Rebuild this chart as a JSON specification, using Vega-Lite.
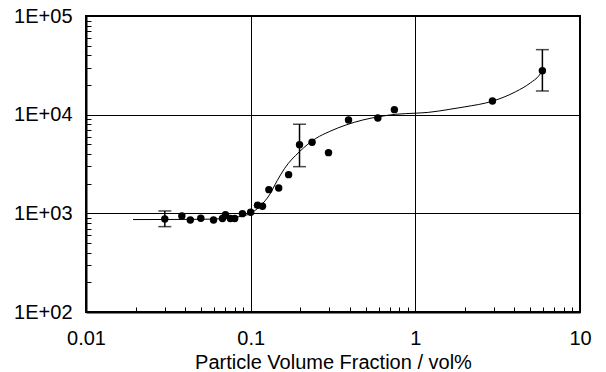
{
  "$schema": "https://vega.github.io/schema/vega-lite/v6.json",
  "autosize": {"type": "none"},
  "padding": {"left": 86, "top": 16, "right": 26, "bottom": 60},
  "width": 494,
  "height": 296,
  "background": "white",
  "config": {
    "font": "Liberation Sans",
    "view": {"stroke": "black", "strokeWidth": 2},
    "axis": {
      "domainColor": "black",
      "domainWidth": 2,
      "tickColor": "black",
      "tickWidth": 1,
      "tickSize": -5,
      "labelColor": "black",
      "labelFontSize": 20,
      "labelFlush": false,
      "labelOverlap": false,
      "labelBound": false,
      "titleColor": "black",
      "titleFontSize": 20,
      "titleFontWeight": "normal",
      "grid": true,
      "gridColor": "black",
      "gridWidth": 1
    }
  },
  "datasets": {
    "points": [
      {"x": 0.0301, "y": 877},
      {"x": 0.0382, "y": 941},
      {"x": 0.0430, "y": 857},
      {"x": 0.0498, "y": 893},
      {"x": 0.0595, "y": 857},
      {"x": 0.0674, "y": 885},
      {"x": 0.0703, "y": 971},
      {"x": 0.0753, "y": 885},
      {"x": 0.0800, "y": 885},
      {"x": 0.0891, "y": 993},
      {"x": 0.100, "y": 1026},
      {"x": 0.110, "y": 1208},
      {"x": 0.118, "y": 1180},
      {"x": 0.129, "y": 1738},
      {"x": 0.148, "y": 1807},
      {"x": 0.170, "y": 2466},
      {"x": 0.198, "y": 4966},
      {"x": 0.236, "y": 5248},
      {"x": 0.297, "y": 4121},
      {"x": 0.393, "y": 8835},
      {"x": 0.592, "y": 9262},
      {"x": 0.746, "y": 11245},
      {"x": 2.94, "y": 13770},
      {"x": 5.91, "y": 27900}
    ],
    "curve": [
      {"x": 0.0193, "y": 865},
      {"x": 0.03, "y": 866},
      {"x": 0.05, "y": 870},
      {"x": 0.07, "y": 885},
      {"x": 0.085, "y": 925},
      {"x": 0.1, "y": 1000},
      {"x": 0.115, "y": 1200},
      {"x": 0.13, "y": 1535},
      {"x": 0.145, "y": 2150},
      {"x": 0.161, "y": 2864},
      {"x": 0.198, "y": 4217},
      {"x": 0.25, "y": 5768},
      {"x": 0.30, "y": 6730},
      {"x": 0.38, "y": 7870},
      {"x": 0.48, "y": 8835},
      {"x": 0.605, "y": 9550},
      {"x": 0.76, "y": 10090},
      {"x": 1.0, "y": 10350},
      {"x": 1.2, "y": 10550},
      {"x": 1.6, "y": 11300},
      {"x": 2.0, "y": 12000},
      {"x": 2.94, "y": 13700},
      {"x": 4.07, "y": 17100},
      {"x": 5.0, "y": 21000},
      {"x": 5.65, "y": 25000},
      {"x": 5.91, "y": 27900}
    ],
    "errors": [
      {"x": 0.0301, "lo": 733, "hi": 1057},
      {"x": 0.198, "lo": 2972, "hi": 7998},
      {"x": 5.91, "lo": 17380, "hi": 45600}
    ]
  },
  "layer": [
    {
      "data": {"name": "curve"},
      "mark": {"type": "line", "color": "black", "strokeWidth": 1, "interpolate": "monotone"},
      "encoding": {
        "x": {
          "field": "x", "type": "quantitative",
          "scale": {"type": "log", "domain": [0.01, 10]},
          "axis": {
            "title": "Particle Volume Fraction / vol%",
            "values": [0.01, 0.02, 0.03, 0.04, 0.05, 0.06, 0.07, 0.08, 0.09, 0.1, 0.2, 0.3, 0.4, 0.5, 0.6, 0.7, 0.8, 0.9, 1, 2, 3, 4, 5, 6, 7, 8, 9, 10],
            "labelExpr": "abs(log(datum.value)/LN10 - round(log(datum.value)/LN10)) < 0.001 ? format(datum.value, '~g') : ''",
            "labelPadding": 21,
            "titlePadding": 4,
            "gridOpacity": {"condition": {"test": "abs(log(datum.value)/LN10 - round(log(datum.value)/LN10)) < 0.001", "value": 1}, "value": 0}
          }
        },
        "y": {
          "field": "y", "type": "quantitative",
          "scale": {"type": "log", "domain": [100, 100000]},
          "axis": {
            "title": null,
            "values": [100, 200, 300, 400, 500, 600, 700, 800, 900, 1000, 2000, 3000, 4000, 5000, 6000, 7000, 8000, 9000, 10000, 20000, 30000, 40000, 50000, 60000, 70000, 80000, 90000, 100000],
            "labelExpr": "abs(log(datum.value)/LN10 - round(log(datum.value)/LN10)) < 0.001 ? '1E+0' + round(log(datum.value)/LN10) : ''",
            "labelPadding": 19,
            "gridOpacity": {"condition": {"test": "abs(log(datum.value)/LN10 - round(log(datum.value)/LN10)) < 0.001", "value": 1}, "value": 0}
          }
        }
      }
    },
    {
      "data": {"name": "errors"},
      "mark": {"type": "rule", "color": "black", "strokeWidth": 1.5},
      "encoding": {
        "x": {"field": "x", "type": "quantitative"},
        "y": {"field": "lo", "type": "quantitative"},
        "y2": {"field": "hi"}
      }
    },
    {
      "data": {"name": "errors"},
      "mark": {"type": "tick", "color": "black", "orient": "horizontal", "size": 13, "thickness": 1.5},
      "encoding": {
        "x": {"field": "x", "type": "quantitative"},
        "y": {"field": "lo", "type": "quantitative"}
      }
    },
    {
      "data": {"name": "errors"},
      "mark": {"type": "tick", "color": "black", "orient": "horizontal", "size": 13, "thickness": 1.5},
      "encoding": {
        "x": {"field": "x", "type": "quantitative"},
        "y": {"field": "hi", "type": "quantitative"}
      }
    },
    {
      "data": {"name": "points"},
      "mark": {"type": "circle", "color": "black", "opacity": 1, "size": 55},
      "encoding": {
        "x": {"field": "x", "type": "quantitative"},
        "y": {"field": "y", "type": "quantitative"}
      }
    }
  ]
}
